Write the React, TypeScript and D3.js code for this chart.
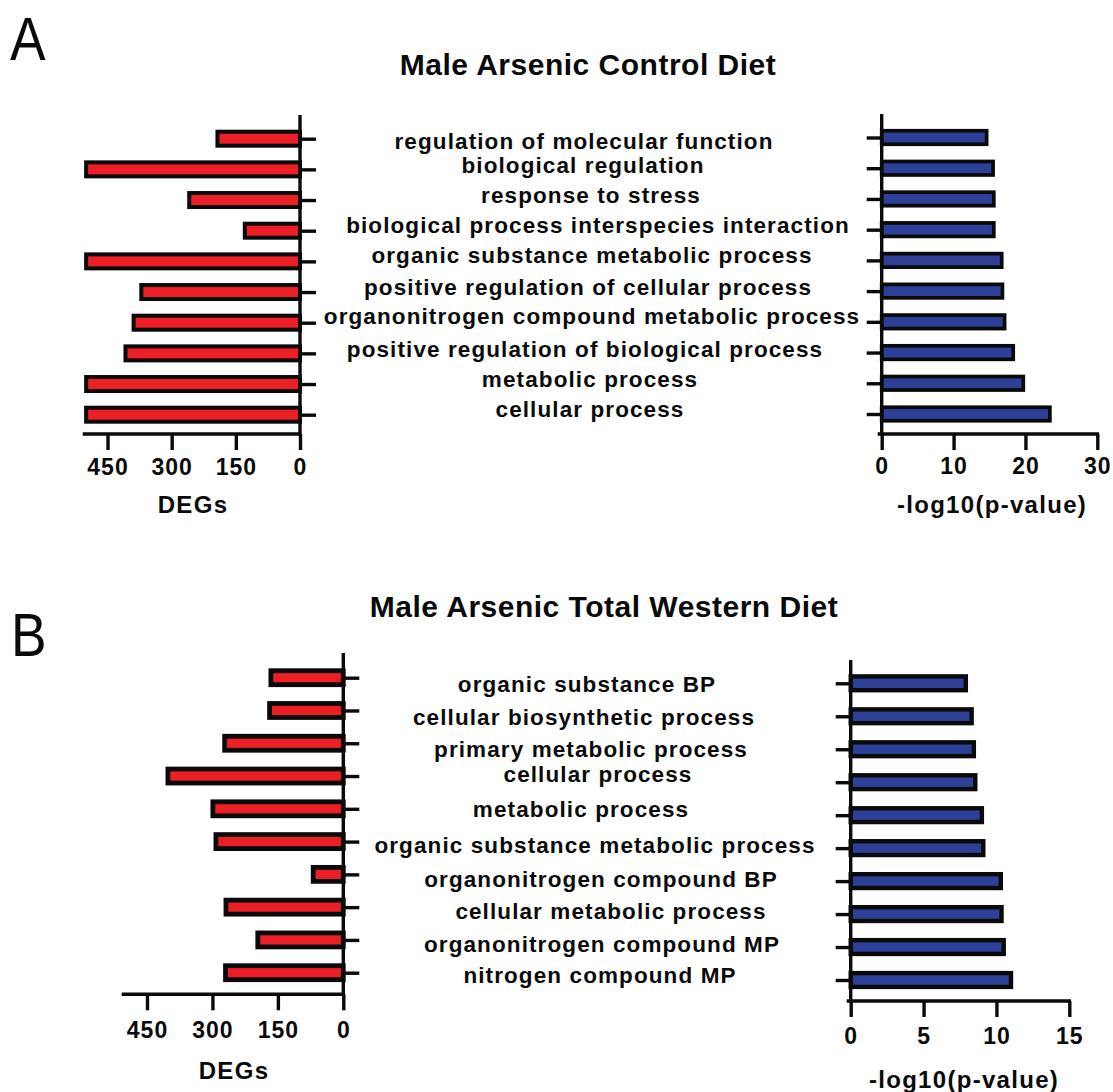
import { useEffect, useRef } from "react";
import * as d3 from "d3";

// GO terms, DEG counts and -log10(p) per panel
const TERMS_A = [
  "regulation of molecular function",
  "biological regulation",
  "response to stress",
  "biological process interspecies interaction",
  "organic substance metabolic process",
  "positive regulation of cellular process",
  "organonitrogen compound metabolic process",
  "positive regulation of biological process",
  "metabolic process",
  "cellular process",
];
const DEGS_A = [193, 500, 259, 129, 500, 371, 389, 408, 500, 500];
const LOGP_A = [14.6, 15.5, 15.6, 15.6, 16.7, 16.8, 17.1, 18.3, 19.7, 23.4];

const TERMS_B = [
  "organic substance BP",
  "cellular biosynthetic process",
  "primary metabolic process",
  "cellular process",
  "metabolic process",
  "organic substance metabolic process",
  "organonitrogen compound BP",
  "cellular metabolic process",
  "organonitrogen compound MP",
  "nitrogen compound MP",
];
const DEGS_B = [166, 169, 272, 402, 299, 292, 69, 269, 196, 270];
const LOGP_B = [7.9, 8.3, 8.45, 8.55, 9.0, 9.1, 10.3, 10.35, 10.5, 11.0];

const DEG_TICKS = [0, 150, 300, 450];
const DEG_MAX = 508;
const LOGP_TICKS_A = [0, 10, 20, 30];
const LOGP_TICKS_B = [0, 5, 10, 15];

// hand-placed term labels in the original figure
const LABEL_DX_A = [-5, -6, 2, 9, 3, -1, 3, -4, 1, 1];
const LABEL_DY_A = [10.6, 3.3, 3.3, 2, 1.3, 3, 1.3, 3.3, 2.7, 2];
const LABEL_DX_B = [-8, -11, -4, 3, -14, 0, 6, 16, 7, 5];
const LABEL_DY_B = [14, 14.5, 13.4, 5.7, 8.5, 11.7, 12.3, 11.8, 11.8, 10];

const RED = "#ed1f26";
const BLUE = "#2e3f98";
const INK = "#0a0a0a";
const FONT = "'Liberation Sans', Arial, Helvetica, sans-serif";

const PANELS = [
  {
    letter: "A",
    letterPos: [10, 60],
    title: "Male Arsenic Control Diet",
    titlePos: [588, 75],
    terms: TERMS_A,
    degs: DEGS_A,
    logp: LOGP_A,
    pTicks: LOGP_TICKS_A,
    left: { x0: 300, x1: 82.7, top: 115, base: 434, c0: 138.7, c1: 414.7, barH: 14, sw: 4, tickY: 475, titleX: 193, titleY: 513 },
    right: { x0: 881.7, x1: 1097.3, top: 114, base: 434, c0: 137.5, c1: 414, barH: 13.5, sw: 3.7, tickY: 474, titleX: 992, titleY: 513 },
    labelX: 589,
    labelDx: LABEL_DX_A,
    labelDy: LABEL_DY_A,
  },
  {
    letter: "B",
    letterPos: [11, 656],
    title: "Male Arsenic Total Western Diet",
    titlePos: [604, 617],
    terms: TERMS_B,
    degs: DEGS_B,
    logp: LOGP_B,
    pTicks: LOGP_TICKS_B,
    left: { x0: 343.3, x1: 121.7, top: 653, base: 994.3, c0: 677.7, c1: 972.7, barH: 14, sw: 4.8, tickY: 1038, titleX: 234, titleY: 1079 },
    right: { x0: 850.7, x1: 1069.3, top: 660, base: 1001, c0: 683.3, c1: 980, barH: 13.8, sw: 4.4, tickY: 1044, titleX: 964, titleY: 1088 },
    labelX: 595,
    labelDx: LABEL_DX_B,
    labelDy: LABEL_DY_B,
  },
];

const AXIS_W = 3.4;

const styleTicks = (sel) => {
  sel.select(".domain").remove();
  sel.selectAll(".tick line").attr("stroke", INK).attr("stroke-width", AXIS_W);
};

const drawPanel = (svg, p) => {
  const g = svg.append("g");

  // panel letter, a narrow light sans in the original
  g.append("text")
    .attr("transform", `translate(${p.letterPos[0]},${p.letterPos[1]}) scale(0.86,1)`)
    .attr("font-family", FONT)
    .attr("font-size", 62)
    .attr("fill", INK)
    .text(p.letter);

  g.append("text")
    .attr("x", p.titlePos[0])
    .attr("y", p.titlePos[1])
    .attr("text-anchor", "middle")
    .attr("font-family", FONT)
    .attr("font-weight", "bold")
    .attr("font-size", 30)
    .attr("letter-spacing", 0.5)
    .attr("fill", INK)
    .text(p.title);

  // ---- left: DEG counts, bars grow leftwards
  const L = p.left;
  const yL = d3.scalePoint().domain(p.terms).range([L.c0, L.c1]);
  const xL = d3.scaleLinear().domain([0, DEG_MAX]).range([L.x0, L.x1]).clamp(true);

  g.append("g")
    .selectAll("rect")
    .data(p.degs)
    .join("rect")
    .attr("x", (d) => xL(d))
    .attr("y", (d, i) => yL(p.terms[i]) - L.barH / 2)
    .attr("width", (d) => L.x0 - xL(d))
    .attr("height", L.barH)
    .attr("fill", RED)
    .attr("stroke", INK)
    .attr("stroke-width", L.sw);

  g.append("g")
    .attr("transform", `translate(${L.x0},0)`)
    .call(d3.axisRight(yL).tickSize(16).tickFormat(() => ""))
    .call(styleTicks);

  const xAxisL = g
    .append("g")
    .attr("transform", `translate(0,${L.base})`)
    .call(d3.axisBottom(xL).tickValues(DEG_TICKS).tickSize(16).tickSizeOuter(0))
    .call(styleTicks);
  xAxisL
    .selectAll(".tick text")
    .attr("y", L.tickY - L.base)
    .attr("dy", null)
    .attr("fill", INK)
    .attr("font-family", FONT)
    .attr("font-weight", "bold")
    .attr("font-size", 23)
    .attr("letter-spacing", 1);

  g.append("line")
    .attr("x1", L.x0)
    .attr("x2", L.x0)
    .attr("y1", L.top)
    .attr("y2", L.base + AXIS_W / 2)
    .attr("stroke", INK)
    .attr("stroke-width", AXIS_W);
  g.append("line")
    .attr("x1", L.x1)
    .attr("x2", L.x0)
    .attr("y1", L.base)
    .attr("y2", L.base)
    .attr("stroke", INK)
    .attr("stroke-width", AXIS_W);

  g.append("text")
    .attr("x", L.titleX)
    .attr("y", L.titleY)
    .attr("text-anchor", "middle")
    .attr("font-family", FONT)
    .attr("font-weight", "bold")
    .attr("font-size", 24)
    .attr("letter-spacing", 1.3)
    .attr("fill", INK)
    .text("DEGs");

  // ---- right: -log10(p), bars grow rightwards
  const R = p.right;
  const pMax = p.pTicks[p.pTicks.length - 1];
  const yR = d3.scalePoint().domain(p.terms).range([R.c0, R.c1]);
  const xR = d3.scaleLinear().domain([0, pMax]).range([R.x0, R.x1]);

  g.append("g")
    .selectAll("rect")
    .data(p.logp)
    .join("rect")
    .attr("x", R.x0)
    .attr("y", (d, i) => yR(p.terms[i]) - R.barH / 2)
    .attr("width", (d) => xR(d) - R.x0)
    .attr("height", R.barH)
    .attr("fill", BLUE)
    .attr("stroke", INK)
    .attr("stroke-width", R.sw);

  g.append("g")
    .attr("transform", `translate(${R.x0},0)`)
    .call(d3.axisLeft(yR).tickSize(15).tickFormat(() => ""))
    .call(styleTicks);

  const xAxisR = g
    .append("g")
    .attr("transform", `translate(0,${R.base})`)
    .call(d3.axisBottom(xR).tickValues(p.pTicks).tickSize(16).tickSizeOuter(0))
    .call(styleTicks);
  xAxisR
    .selectAll(".tick text")
    .attr("y", R.tickY - R.base)
    .attr("dy", null)
    .attr("fill", INK)
    .attr("font-family", FONT)
    .attr("font-weight", "bold")
    .attr("font-size", 23)
    .attr("letter-spacing", 1);

  g.append("line")
    .attr("x1", R.x0)
    .attr("x2", R.x0)
    .attr("y1", R.top)
    .attr("y2", R.base + AXIS_W / 2)
    .attr("stroke", INK)
    .attr("stroke-width", AXIS_W);
  g.append("line")
    .attr("x1", R.x0 - 4)
    .attr("x2", R.x1 + AXIS_W / 2)
    .attr("y1", R.base)
    .attr("y2", R.base)
    .attr("stroke", INK)
    .attr("stroke-width", AXIS_W);

  g.append("text")
    .attr("x", R.titleX)
    .attr("y", R.titleY)
    .attr("text-anchor", "middle")
    .attr("font-family", FONT)
    .attr("font-weight", "bold")
    .attr("font-size", 24)
    .attr("letter-spacing", 1.3)
    .attr("fill", INK)
    .text("-log10(p-value)");

  // ---- GO term labels in the middle
  g.append("g")
    .selectAll("text")
    .data(p.terms)
    .join("text")
    .attr("x", (d, i) => p.labelX + p.labelDx[i])
    .attr("y", (d) => yL(d))
    .attr("dy", (d, i) => p.labelDy[i])
    .attr("text-anchor", "middle")
    .attr("font-family", FONT)
    .attr("font-weight", "bold")
    .attr("font-size", 22.5)
    .attr("letter-spacing", 1.1)
    .attr("fill", INK)
    .text((d) => d);
};

const App = () => {
  const svgRef = useRef(null);

  useEffect(() => {
    const svg = d3.select(svgRef.current);
    svg.selectAll("*").remove();
    PANELS.forEach((p) => drawPanel(svg, p));
  }, []);

  return (
    <svg
      ref={svgRef}
      width={1113}
      height={1092}
      style={{ position: "absolute", left: 0, top: 0, background: "#fff" }}
    />
  );
};

export default App;
